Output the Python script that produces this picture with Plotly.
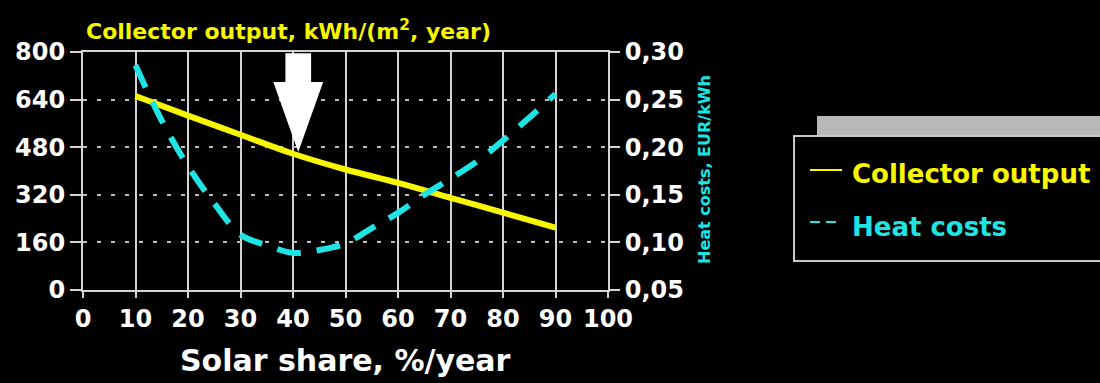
import plotly.graph_objects as go

# ---- data ----
solar_share_collector = [10, 20, 30, 40, 50, 60, 70, 80, 90]
collector_output = [652, 586, 522, 458, 405, 360, 310, 260, 210]

solar_share_costs = [10, 15, 20, 25, 30, 35, 40, 45, 50, 55, 60, 65, 70, 75, 80, 85, 90]
heat_costs = [0.286, 0.228, 0.180, 0.141, 0.108, 0.097, 0.089, 0.092, 0.099,
              0.115, 0.131, 0.150, 0.167, 0.185, 0.207, 0.231, 0.256]

x_ticks = list(range(0, 101, 10))
left_ticks = [0, 160, 320, 480, 640, 800]
right_ticks = [0.05, 0.10, 0.15, 0.20, 0.25, 0.30]

# optimum marker (arrow) in data units
arrow_x = 41.0
arrow_top = 796
arrow_neck = 699
arrow_tip = 464
arrow_shaft_half = 2.45
arrow_head_half = 4.75

YELLOW = "#f7f700"
CYAN = "#1ee4e4"
WHITE = "#ffffff"
GRID = "#d4d4d4"
FONT = "DejaVu Sans"

# layout geometry (pixels)
W, H = 1100, 383
L, R, T, B = 83, 492, 52, 93
PW, PH = W - L - R, H - T - B


def px(xp):
    return (xp - L) / PW


def py(yp):
    return (H - B - yp) / PH


fig = go.Figure()
fig.add_trace(go.Scatter(
    x=solar_share_collector, y=collector_output, mode="lines",
    line=dict(color=YELLOW, width=6, shape="spline"),
    name="Collector output", showlegend=False))
fig.add_trace(go.Scatter(
    x=solar_share_costs, y=heat_costs, mode="lines", yaxis="y2",
    line=dict(color=CYAN, width=6, dash="24px,16px", shape="spline"),
    name="Heat costs", showlegend=False))

shapes = []
# arrow
path = (f"M {arrow_x - arrow_shaft_half} {arrow_top} "
        f"L {arrow_x + arrow_shaft_half} {arrow_top} "
        f"L {arrow_x + arrow_shaft_half} {arrow_neck} "
        f"L {arrow_x + arrow_head_half} {arrow_neck} "
        f"L {arrow_x} {arrow_tip} "
        f"L {arrow_x - arrow_head_half} {arrow_neck} "
        f"L {arrow_x - arrow_shaft_half} {arrow_neck} Z")
shapes.append(dict(type="path", path=path, xref="x", yref="y",
                   fillcolor=WHITE, line=dict(width=0), layer="above"))

# legend box
shapes.append(dict(type="rect", xref="paper", yref="paper",
                   x0=px(817), x1=px(1110), y0=py(136), y1=py(116),
                   fillcolor="#b8b8b8", line=dict(width=0)))
shapes.append(dict(type="rect", xref="paper", yref="paper",
                   x0=px(794), x1=px(1115), y0=py(261), y1=py(136),
                   fillcolor="rgba(0,0,0,0)", line=dict(color="#c8c8c8", width=2)))
shapes.append(dict(type="line", xref="paper", yref="paper",
                   x0=px(810), x1=px(842), y0=py(170), y1=py(170),
                   line=dict(color=YELLOW, width=2)))
shapes.append(dict(type="line", xref="paper", yref="paper",
                   x0=px(810), x1=px(842), y0=py(222), y1=py(222),
                   line=dict(color=CYAN, width=2, dash="10px,6px")))

annotations = [
    dict(text="Collector output, kWh/(m<sup>2</sup>, year)", xref="paper", yref="paper",
         x=px(84), y=py(30), xanchor="left", yanchor="middle", showarrow=False,
         font=dict(family=FONT, size=22, color=YELLOW, weight="bold")),
    dict(text="Solar share, %/year", xref="paper", yref="paper",
         x=0.5, y=py(360), xanchor="center", yanchor="middle", showarrow=False,
         font=dict(family=FONT, size=30, color=WHITE, weight="bold")),
    dict(text="Heat costs, EUR/kWh", xref="paper", yref="paper",
         x=px(704), y=py(170), xanchor="center", yanchor="middle", showarrow=False,
         textangle=-90,
         font=dict(family=FONT, size=16, color=CYAN, weight="bold")),
    dict(text="Collector output", xref="paper", yref="paper",
         x=px(850), y=py(174), xanchor="left", yanchor="middle", showarrow=False,
         font=dict(family=FONT, size=26, color=YELLOW, weight="bold")),
    dict(text="Heat costs", xref="paper", yref="paper",
         x=px(850), y=py(227), xanchor="left", yanchor="middle", showarrow=False,
         font=dict(family=FONT, size=26, color=CYAN, weight="bold")),
]

tickfont = dict(family=FONT, size=24, color=WHITE, weight="bold")

fig.update_layout(
    width=W, height=H,
    margin=dict(l=L, r=R, t=T, b=B, pad=0),
    paper_bgcolor="black", plot_bgcolor="black",
    separators=",.",
    showlegend=False,
    shapes=shapes, annotations=annotations,
    xaxis=dict(range=[0, 100], tickvals=x_ticks, showgrid=True, gridcolor=GRID,
               gridwidth=2, showline=True, linecolor=GRID, linewidth=2, mirror=True,
               ticks="outside", ticklen=6, tickwidth=2, tickcolor=GRID,
               zeroline=False, tickfont=tickfont),
    yaxis=dict(range=[0, 800], tickvals=left_ticks, tickformat="d", showgrid=True,
               gridcolor="#bdbdbd", gridwidth=2, griddash="4px,10px",
               showline=True, linecolor=GRID, linewidth=2,
               ticks="outside", ticklen=11, tickwidth=2, tickcolor=GRID,
               zeroline=False, tickfont=tickfont),
    yaxis2=dict(range=[0.05, 0.30], tickvals=right_ticks, tickformat=".2f",
                overlaying="y", side="right", showgrid=False, showline=True,
                linecolor=GRID, linewidth=2, ticks="outside", ticklen=10,
                tickwidth=2, tickcolor=GRID, zeroline=False, tickfont=tickfont),
)

fig.write_html(
    "out.html",
    config={"displayModeBar": False},
    post_script="document.body.style.margin='0px';document.body.style.background='black';",
)
